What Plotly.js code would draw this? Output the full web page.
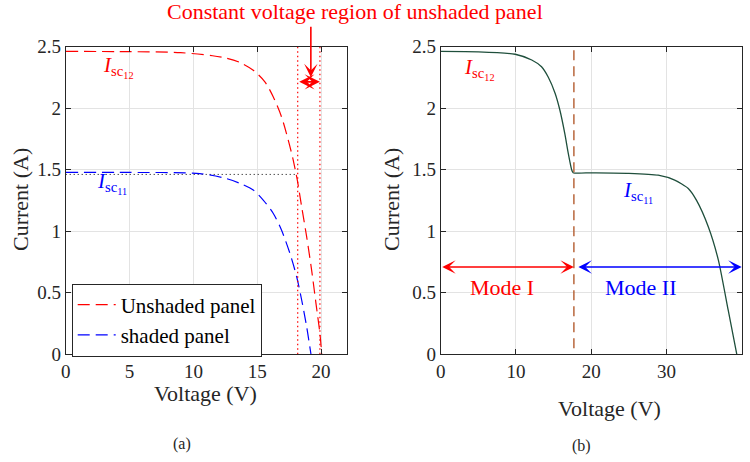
<!DOCTYPE html>
<html>
<head>
<meta charset="utf-8">
<script src="https://cdn.plot.ly/plotly-3.0.1.min.js"></script>
<style>html,body{margin:0;padding:0;background:#fff;}#chart{width:750px;height:462px;}</style>
</head>
<body>
<div id="chart"></div>
<script>
// ---- data ----
// (a) individual panels
const unshadedV = [0, 5, 9, 11.5, 12.6, 13.65, 14.69, 15.6, 16.26, 16.9, 17.43, 17.82, 18.14, 18.48, 18.87, 19.26, 19.6, 19.91, 20.05];
const unshadedI = [2.46, 2.458, 2.45, 2.425, 2.405, 2.37, 2.307, 2.213, 2.09, 1.93, 1.74, 1.577, 1.415, 1.198, 0.955, 0.684, 0.414, 0.17, 0];
const shadedV = [0, 5, 10.5, 12.5, 13.65, 14.69, 15.47, 16.26, 16.9, 17.56, 18.09, 18.48, 18.87, 19.21];
const shadedI = [1.478, 1.477, 1.468, 1.43, 1.388, 1.334, 1.252, 1.144, 1.009, 0.82, 0.63, 0.441, 0.224, 0];
const refLineV = [0, 18.14];
const refLineI = [1.461, 1.461];
const cvLeftV = [18.17, 18.17];
const cvRightV = [19.91, 19.91];
const cvI = [0, 2.5];
// (b) series-connected string
const stringV = [0, 5, 9.9, 12.1, 13.4, 14.3, 15.2, 15.85, 16.5, 16.96, 17.4, 17.6, 20.06, 25, 28.9, 31.1, 32.9, 34.0, 35.56, 36.9, 38.2, 39.35];
const stringI = [2.46, 2.457, 2.437, 2.39, 2.335, 2.25, 2.12, 1.98, 1.79, 1.63, 1.50, 1.475, 1.474, 1.47, 1.455, 1.415, 1.347, 1.25, 1.036, 0.765, 0.36, 0];
const modeBoundV = [17.7, 17.7];
const modeBoundI = [0.05, 2.5];
const modeArrowI = 0.71;
const modeIRange = [0, 17.7];
const modeIIRange = [18.1, 40];
const cvArrowI = 2.213;
const xTicksA = [0, 5, 10, 15, 20];
const xTicksB = [0, 10, 20, 30, 40];
const yTicks = [0, 0.5, 1, 1.5, 2, 2.5];

const FONT = "Liberation Serif, Times New Roman, serif";
const RED = "#ff0000", BLUE = "#0000ff", INK = "#262626";

const traces = [
  {x: refLineV, y: refLineI, xaxis: "x", yaxis: "y", mode: "lines", showlegend: false,
   line: {color: "#000000", width: 1, dash: "1px,3px"}},
  {x: unshadedV, y: unshadedI, xaxis: "x", yaxis: "y", mode: "lines", name: "Unshaded panel",
   line: {color: RED, width: 1.2, dash: "12px,6px", shape: "spline", smoothing: 0.8}},
  {x: shadedV, y: shadedI, xaxis: "x", yaxis: "y", mode: "lines", name: "shaded panel",
   line: {color: BLUE, width: 1.2, dash: "12px,6px", shape: "spline", smoothing: 0.8}},
  {x: cvLeftV, y: cvI, xaxis: "x", yaxis: "y", mode: "lines", showlegend: false,
   line: {color: RED, width: 1.2, dash: "1.5px,3px"}},
  {x: cvRightV, y: cvI, xaxis: "x", yaxis: "y", mode: "lines", showlegend: false,
   line: {color: RED, width: 1.2, dash: "1.5px,3px"}},
  {x: stringV, y: stringI, xaxis: "x2", yaxis: "y2", mode: "lines", showlegend: false,
   line: {color: "#1f4f3c", width: 1.3, shape: "spline", smoothing: 0.6}},
  {x: modeBoundV, y: modeBoundI, xaxis: "x2", yaxis: "y2", mode: "lines", showlegend: false,
   line: {color: "#b8663c", width: 1.5, dash: "10px,6px"}}
];

function axis(domain, range, tickvals, anchor) {
  return {
    domain: domain, range: range, tickvals: tickvals, anchor: anchor,
    showgrid: true, gridcolor: "#e3e3e3", gridwidth: 1,
    zeroline: false, showline: true, linecolor: INK, linewidth: 1,
    mirror: "ticks", ticks: "inside", ticklen: 5, tickcolor: INK, tickwidth: 1,
    tickfont: {family: FONT, size: 19, color: INK}, fixedrange: true
  };
}

const W = 750, H = 462;
const px = v => v / W, py = v => 1 - v / H;
function label(text, x, y, size, color, angle) {
  return {text: text, xref: "paper", yref: "paper", x: px(x), y: py(y), xanchor: "center", yanchor: "middle",
          textangle: angle || 0, showarrow: false, font: {family: FONT, size: size, color: color}};
}
function isc(text, axX, axY, x, y, color) {
  return {text: text, xref: axX, yref: axY, x: x, y: y, xanchor: "left", yanchor: "middle",
          showarrow: false, font: {family: FONT, size: 21, color: color}};
}

const annotations = [
  label("Current (A)", 20, 200, 22, INK, -90),
  label("Current (A)", 391, 200, 22, INK, -90),
  label("Voltage (V)", 205, 393, 22, INK),
  label("Voltage (V)", 609, 408, 22, INK),
  label("(a)", 182, 444, 16, INK),
  label("(b)", 581, 446, 16, INK),
  label("Constant voltage region of unshaded panel", 355, 11, 22, RED),
  isc("<i>I</i><sub>sc<sub>12</sub></sub>", "x", "y", 2.8, 2.33, RED),
  isc("<i>I</i><sub>sc<sub>11</sub></sub>", "x", "y", 2.3, 1.39, BLUE),
  isc("<i>I</i><sub>sc<sub>12</sub></sub>", "x2", "y2", 2.8, 2.32, RED),
  isc("<i>I</i><sub>sc<sub>11</sub></sub>", "x2", "y2", 24.0, 1.32, BLUE),
  // constant-voltage region arrows
  {text: "", xref: "x", yref: "y", axref: "x", ayref: "y", x: cvRightV[0], y: cvArrowI, ax: cvLeftV[0], ay: cvArrowI,
   showarrow: true, arrowside: "end+start", arrowhead: 3, arrowsize: 1.6, arrowwidth: 1.6, arrowcolor: RED, standoff: 0, startstandoff: 0},
  {text: "", xref: "x", yref: "y", x: 19.2, y: 2.25, ax: 0, ay: -52,
   showarrow: true, arrowhead: 3, arrowsize: 1.4, arrowwidth: 1.6, arrowcolor: RED, standoff: 0},
  // mode arrows
  {text: "", xref: "x2", yref: "y2", axref: "x2", ayref: "y2", x: modeIRange[1], y: modeArrowI, ax: modeIRange[0], ay: modeArrowI,
   showarrow: true, arrowside: "end+start", arrowhead: 3, arrowsize: 1.5, arrowwidth: 1.5, arrowcolor: RED, standoff: 0, startstandoff: 0},
  {text: "", xref: "x2", yref: "y2", axref: "x2", ayref: "y2", x: modeIIRange[1], y: modeArrowI, ax: modeIIRange[0], ay: modeArrowI,
   showarrow: true, arrowside: "end+start", arrowhead: 3, arrowsize: 1.5, arrowwidth: 1.5, arrowcolor: BLUE, standoff: 0, startstandoff: 0},
  {text: "Mode I", xref: "x2", yref: "y2", x: 8.2, y: 0.54, xanchor: "center", yanchor: "middle", showarrow: false,
   font: {family: FONT, size: 22, color: RED}},
  {text: "Mode II", xref: "x2", yref: "y2", x: 26.5, y: 0.54, xanchor: "center", yanchor: "middle", showarrow: false,
   font: {family: FONT, size: 22, color: BLUE}}
];

const layout = {
  width: W, height: H,
  margin: {l: 0, r: 0, t: 0, b: 0},
  paper_bgcolor: "#ffffff", plot_bgcolor: "#ffffff",
  font: {family: FONT, color: INK},
  xaxis: axis([px(65.7), px(346.6)], [0, 22], xTicksA, "y"),
  yaxis: axis([1 - 354.3 / H, 1 - 46.5 / H], [0, 2.5], yTicks, "x"),
  xaxis2: axis([px(440.7), px(741.7)], [0, 40], xTicksB, "y2"),
  yaxis2: axis([1 - 354.3 / H, 1 - 46.5 / H], [0, 2.5], yTicks, "x2"),
  showlegend: true,
  legend: {x: px(71.7), y: py(283.5), xanchor: "left", yanchor: "top",
           bgcolor: "#ffffff", bordercolor: INK, borderwidth: 1,
           font: {family: FONT, size: 21, color: "#000000"}, tracegroupgap: 0, itemwidth: 38},
  annotations: annotations
};

Plotly.newPlot("chart", traces, layout, {staticPlot: true, displayModeBar: false});
</script>
</body>
</html>
